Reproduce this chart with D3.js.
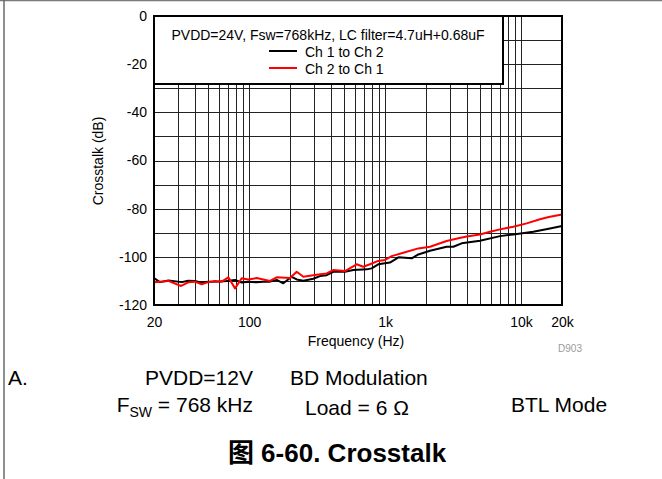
<!DOCTYPE html>
<html>
<head>
<meta charset="utf-8">
<script src="https://cdn.jsdelivr.net/npm/d3@7"></script>
<style>
  html, body { margin: 0; padding: 0; background: #fff; }
  svg { display: block; font-family: "Liberation Sans", Arial, Helvetica, sans-serif; }
</style>
</head>
<body>
<svg id="chart" width="662" height="479"></svg>
<script>
// ---------- data ----------
const freqBlack = [20.1, 22.1, 25.5, 32.0, 35.7, 40.0, 44.8, 50.2, 61.1, 68.4, 78.9, 88.3, 98.7, 113.8, 127, 142.6, 159.6, 178.6, 205.7, 224, 250.7, 296.6, 332, 372, 416, 507, 584, 733, 797, 891, 1087, 1254, 1571, 1756, 2140, 2837, 3178, 3659, 4990, 7000, 8774, 12300, 16320, 20000];
const dbBlack   = [-108.9, -110.5, -109.8, -110.5, -109.9, -110.0, -110.7, -110.3, -110.2, -110.0, -109.6, -110.7, -110.3, -110.6, -110.3, -110.3, -109.6, -111.0, -108.3, -109.4, -109.9, -109.1, -108.0, -107.6, -106.2, -106.2, -105.5, -105.2, -104.8, -103.1, -102.4, -100.2, -100.6, -99.0, -97.5, -95.8, -95.8, -94.4, -93.3, -91.4, -90.7, -89.6, -88.2, -87.2];

const freqRed = [20.1, 25.5, 31.6, 35.7, 40.0, 44.8, 50.2, 56.2, 63, 70.4, 78.9, 88.3, 98.7, 113.8, 142.6, 159.6, 200, 224, 250.7, 314, 372, 416, 507, 618, 692, 774, 891, 1000, 1119, 1362, 1756, 2140, 2837, 3458, 3982, 4990, 5912, 7000, 8774, 11000, 13770, 16000, 20000];
const dbRed   = [-110.6, -110.0, -112.1, -110.6, -110.3, -111.4, -110.5, -110.0, -110.3, -108.5, -113.1, -108.9, -109.4, -108.8, -110.0, -108.5, -108.8, -106.2, -108.3, -107.4, -106.9, -105.5, -105.9, -103.1, -104.1, -103.1, -101.7, -101.3, -99.7, -98.3, -96.5, -95.8, -93.4, -92.3, -91.6, -90.7, -89.6, -88.6, -87.5, -86.1, -84.4, -83.5, -82.4];

const xTickValues = [20, 100, 1000, 10000, 20000];
const xTickLabels = ["20", "100", "1k", "10k", "20k"];
const yTickValues = [0, -20, -40, -60, -80, -100, -120];
const yTickLabels = ["0", "-20", "-40", "-60", "-80", "-100", "-120"];
const xGridValues = [30, 40, 50, 60, 70, 80, 90, 100, 200, 300, 400, 500, 600, 700, 800, 900, 1000, 2000, 3000, 4000, 5000, 6000, 7000, 8000, 9000, 10000];
const yGridValues = [-10, -20, -30, -40, -50, -60, -70, -80, -90, -100, -110];

const legendTitle = "PVDD=24V, Fsw=768kHz, LC filter=4.7uH+0.68uF";
const seriesNames = ["Ch 1 to Ch 2", "Ch 2 to Ch 1"];
const seriesColors = ["#000000", "#ff0000"];

// ---------- layout ----------
const svg = d3.select("#chart");
const L = 154, R = 562, T = 16, B = 305;
const x = d3.scaleLog().domain([20, 20000]).range([L, R]);
const y = d3.scaleLinear().domain([-120, 0]).range([B, T]);

// outer frame (top & left)
svg.append("line").attr("x1", 0).attr("x2", 662).attr("y1", 0.5).attr("y2", 0.5)
  .attr("stroke", "#7a7a7a").attr("stroke-width", 1.5);
svg.append("line").attr("x1", 4).attr("x2", 4).attr("y1", 0).attr("y2", 479)
  .attr("stroke", "#6a6a6a").attr("stroke-width", 1.5);

// grid
const grid = svg.append("g");
grid.selectAll("line.v").data(xGridValues).enter().append("line")
  .attr("x1", d => Math.round(x(d)) + 0.5).attr("x2", d => Math.round(x(d)) + 0.5)
  .attr("y1", T).attr("y2", B).attr("stroke", "#222").attr("stroke-width", 1);
grid.selectAll("line.h").data(yGridValues).enter().append("line")
  .attr("x1", L).attr("x2", R)
  .attr("y1", d => Math.round(y(d)) + 0.5).attr("y2", d => Math.round(y(d)) + 0.5)
  .attr("stroke", "#222").attr("stroke-width", 1);

// curves
const line = d3.line().x(d => x(d[0])).y(d => y(d[1]));
svg.append("path").datum(d3.zip(freqBlack, dbBlack)).attr("d", line)
  .attr("fill", "none").attr("stroke", seriesColors[0]).attr("stroke-width", 2).attr("stroke-linejoin", "round");
svg.append("path").datum(d3.zip(freqRed, dbRed)).attr("d", line)
  .attr("fill", "none").attr("stroke", seriesColors[1]).attr("stroke-width", 2).attr("stroke-linejoin", "round");

// plot border
svg.append("rect").attr("x", L).attr("y", T).attr("width", R - L).attr("height", B - T)
  .attr("fill", "none").attr("stroke", "#000").attr("stroke-width", 2);

// legend
const lg = svg.append("g");
lg.append("rect").attr("x", L).attr("y", T).attr("width", 349).attr("height", 68)
  .attr("fill", "#fff").attr("stroke", "#000").attr("stroke-width", 2);
lg.append("text").attr("x", 328).attr("y", 39.5).attr("text-anchor", "middle")
  .attr("font-size", 14).attr("fill", "#000").text(legendTitle);
seriesNames.forEach((name, i) => {
  const yy = 51 + i * 17;
  lg.append("line").attr("x1", 269).attr("x2", 297).attr("y1", yy).attr("y2", yy)
    .attr("stroke", seriesColors[i]).attr("stroke-width", 2);
  lg.append("text").attr("x", 305).attr("y", yy + 5.5).attr("font-size", 14).attr("fill", "#000").text(name);
});

// axes
const xAxis = d3.axisBottom(x).tickValues(xTickValues)
  .tickFormat((d, i) => xTickLabels[i]).tickSize(0).tickPadding(12);
const gx = svg.append("g").attr("transform", `translate(0,${B})`).call(xAxis);
gx.select(".domain").remove();
gx.selectAll("text").attr("font-size", 14).attr("fill", "#000").attr("font-family", null);

const yAxis = d3.axisLeft(y).tickValues(yTickValues)
  .tickFormat((d, i) => yTickLabels[i]).tickSize(0).tickPadding(7);
const gy = svg.append("g").attr("transform", `translate(${L},0)`).call(yAxis);
gy.select(".domain").remove();
gy.selectAll("text").attr("font-size", 14).attr("fill", "#000").attr("font-family", null);

// axis titles
svg.append("text").attr("x", 356).attr("y", 346).attr("text-anchor", "middle")
  .attr("font-size", 14).text("Frequency (Hz)");
svg.append("text").attr("transform", "translate(103,161) rotate(-90)").attr("text-anchor", "middle")
  .attr("font-size", 14).text("Crosstalk (dB)");
svg.append("text").attr("x", 570).attr("y", 352).attr("text-anchor", "middle")
  .attr("font-size", 10).attr("fill", "#9a9a9a").text("D903");

// notes
const notes = svg.append("g").attr("font-size", 21).attr("fill", "#000");
notes.append("text").attr("x", 8).attr("y", 385).text("A.");
notes.append("text").attr("x", 253).attr("y", 385).attr("text-anchor", "end").text("PVDD=12V");
notes.append("text").attr("x", 290).attr("y", 385).text("BD Modulation");

const fsw = notes.append("text").attr("x", 253).attr("y", 412).attr("text-anchor", "end");
fsw.append("tspan").text("F");
fsw.append("tspan").attr("font-size", 14).attr("dy", 5).text("SW");
fsw.append("tspan").attr("dy", -5).text(" = 768 kHz");

notes.append("text").attr("x", 305).attr("y", 415).text("Load = 6 Ω");
notes.append("text").attr("x", 511).attr("y", 412).text("BTL Mode");

svg.append("text").attr("x", 337).attr("y", 462).attr("text-anchor", "middle")
  .attr("font-size", 26).attr("font-weight", "bold")
  .attr("font-family", "'Liberation Sans', 'Noto Sans CJK SC', sans-serif")
  .text("图 6-60. Crosstalk");
</script>
</body>
</html>
